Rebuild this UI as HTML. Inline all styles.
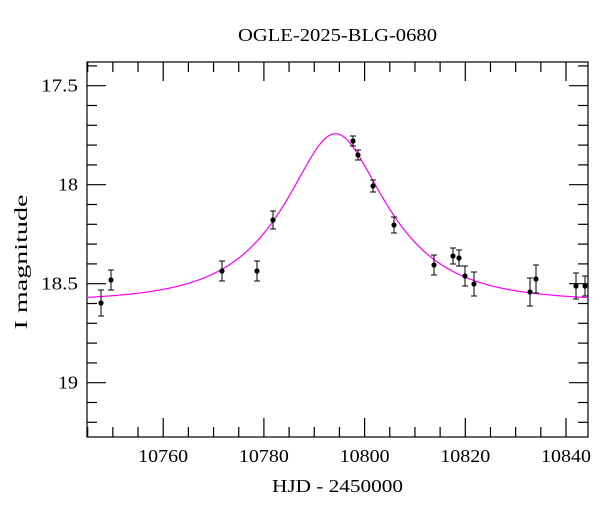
<!DOCTYPE html>
<html><head><meta charset="utf-8"><style>
body{margin:0;background:#fff;}
svg{display:block;font-family:"Liberation Serif",serif;}
</style></head><body>
<svg id="s" width="600" height="512" xmlns="http://www.w3.org/2000/svg">
<rect width="600" height="512" fill="#fff"/>
<text x="337.5" y="41" font-size="18" text-anchor="middle" textLength="199" lengthAdjust="spacingAndGlyphs">OGLE-2025-BLG-0680</text>
<text x="337.5" y="492" font-size="18" text-anchor="middle" textLength="131" lengthAdjust="spacingAndGlyphs">HJD - 2450000</text>
<text transform="translate(27,262) rotate(-90)" font-size="18" text-anchor="middle" textLength="135" lengthAdjust="spacingAndGlyphs">I magnitude</text>
<g id="ax" stroke="#000" stroke-width="1.2" fill="none"></g>
<g id="lab" font-size="18"></g>
<path id="curve" fill="none" stroke="#ff00ff" stroke-width="1.2"/>
<g id="pts"></g>
</svg>
<script>
const L=87,R=588,T=62,B=437;
const xs=t=>465.3+(t-10820)*5.035;
const ys=m=>184.7+(m-18)*198;
const ax=document.getElementById('ax'),lab=document.getElementById('lab');
let h=`<rect x="${L}" y="${T}" width="${R-L}" height="${B-T}"/>`;
let lb='';
for(let t=10745;t<=10844;t+=5){const x=xs(t);const maj=t%20==0;const l=maj?19:10;
h+=`<line x1="${x}" y1="${B}" x2="${x}" y2="${B-l}"/><line x1="${x}" y1="${T}" x2="${x}" y2="${T+l}"/>`;
if(maj)lb+=`<text x="${x}" y="462" text-anchor="middle" textLength="50" lengthAdjust="spacingAndGlyphs">${t}</text>`;}
for(let k=174;k<=192;k++){const m=k/10;const y=ys(m);const maj=k%5==0;const l=maj?19:10;
h+=`<line x1="${L}" y1="${y}" x2="${L+l}" y2="${y}"/><line x1="${R}" y1="${y}" x2="${R-l}" y2="${y}"/>`;
if(maj){const s=k%10==0?String(k/10):m.toFixed(1);const w=s.length==2?20:37;
lb+=`<text x="78" y="${y+6}" text-anchor="end" textLength="${w}" lengthAdjust="spacingAndGlyphs">${s}</text>`;}}
ax.innerHTML=h;lab.innerHTML=lb;
const t0=10794.2,tE=17.4,u0=0.5,base=18.59;
let d='';
for(let x=L;x<=R;x+=1){const t=10820+(x-465.3)/5.035;const u=Math.sqrt(u0*u0+((t-t0)/tE)**2);
const A=(u*u+2)/(u*Math.sqrt(u*u+4));const m=base-2.5*Math.log10(A);d+=(x==L?'M':'L')+x+','+ys(m).toFixed(2);}
document.getElementById('curve').setAttribute('d',d);
const P=[[101,303,13],[111,280,10],[222,271,10],[257,271,10],[273,220,9],[353,141,5],[358,155,5],[373,186,6],[394,225,8],[434,265,10],[453,256,8],[459,258,8],[465,276,10],[474,284,12],[530,292,14],[536,279,14],[576,286,13],[585,286,10]];
let p='';
for(const [x,y,e] of P){p+=`<line x1="${x}" y1="${y-e}" x2="${x}" y2="${y+e}" stroke="#000"/><line x1="${x-3}" y1="${y-e}" x2="${x+3}" y2="${y-e}" stroke="#000"/><line x1="${x-3}" y1="${y+e}" x2="${x+3}" y2="${y+e}" stroke="#000"/><circle cx="${x}" cy="${y}" r="2.6" fill="#000"/>`;}
document.getElementById('pts').innerHTML=p;
</script>
</body></html>
